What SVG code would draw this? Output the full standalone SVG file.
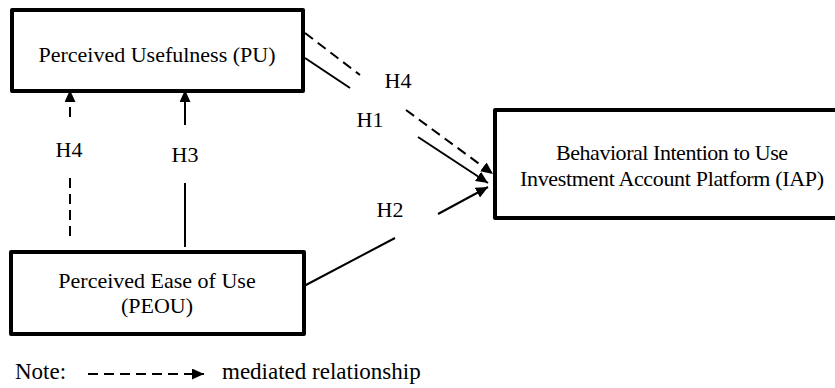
<svg xmlns="http://www.w3.org/2000/svg" width="835" height="388" viewBox="0 0 835 388">
  <style>
    .box { fill: #ffffff; stroke: #000000; stroke-width: 4; stroke-linejoin: round; }
    .lbl { font-family: "Liberation Serif", "Times New Roman", serif; font-size: 22px; fill: #000000; text-anchor: middle; }
    .note { font-family: "Liberation Serif", "Times New Roman", serif; font-size: 23px; fill: #000000; }
    .solid { stroke: #000000; stroke-width: 2; fill: none; }
    .dash { stroke: #000000; stroke-width: 2; fill: none; stroke-dasharray: 10 6; }
  </style>
  <defs>
    <marker id="arrow" markerUnits="userSpaceOnUse" markerWidth="13" markerHeight="11" refX="12" refY="5.5" orient="auto">
      <path d="M0,0 L12,5.5 L0,11 Z" fill="#000000"/>
    </marker>
  </defs>
  <rect width="835" height="388" fill="#ffffff"/>

  <g id="node-pu">
    <rect class="box" x="12" y="10" width="291" height="81"/>
    <text class="lbl" x="157" y="62">Perceived Usefulness (PU)</text>
  </g>

  <g id="node-peou">
    <rect class="box" x="11" y="252" width="293" height="82"/>
    <text class="lbl" x="157" y="288">Perceived Ease of Use</text>
    <text class="lbl" x="157" y="313">(PEOU)</text>
  </g>

  <g id="node-iap">
    <rect class="box" x="495" y="110" width="360" height="108"/>
    <text class="lbl" x="672" y="160" textLength="232">Behavioral Intention to Use</text>
    <text class="lbl" x="672" y="186" textLength="304">Investment Account Platform (IAP)</text>
  </g>

  <g id="connectors">
    <!-- PEOU to PU, mediated (H4) -->
    <line class="dash" x1="70" y1="117" x2="70" y2="90" marker-end="url(#arrow)"/>
    <line class="dash" x1="70" y1="178" x2="70" y2="240" stroke-dasharray="11 6"/>
    <!-- PEOU to PU (H3) -->
    <line class="solid" x1="185" y1="125" x2="185" y2="90" marker-end="url(#arrow)"/>
    <line class="solid" x1="185" y1="183" x2="185" y2="247"/>
    <!-- PU to IAP, mediated (H4) -->
    <line class="dash" x1="305" y1="33" x2="360" y2="75"/>
    <line class="dash" x1="406" y1="110" x2="493" y2="174" marker-end="url(#arrow)"/>
    <!-- PU to IAP (H1) -->
    <line class="solid" x1="305" y1="58" x2="350" y2="88"/>
    <line class="solid" x1="418" y1="137" x2="488" y2="183" marker-end="url(#arrow)"/>
    <!-- PEOU to IAP (H2) -->
    <line class="solid" x1="304" y1="286" x2="395" y2="238"/>
    <line class="solid" x1="438" y1="214" x2="488" y2="187" marker-end="url(#arrow)"/>

    <text class="lbl" x="69" y="157">H4</text>
    <text class="lbl" x="185" y="162">H3</text>
    <text class="lbl" x="398" y="88">H4</text>
    <text class="lbl" x="370" y="127">H1</text>
    <text class="lbl" x="390" y="217">H2</text>
  </g>

  <g id="legend">
    <text class="note" x="15" y="379">Note:</text>
    <line class="dash" x1="88" y1="374" x2="204" y2="374" stroke-dasharray="12 6" marker-end="url(#arrow)"/>
    <text class="note" x="222" y="379">mediated relationship</text>
  </g>
</svg>
